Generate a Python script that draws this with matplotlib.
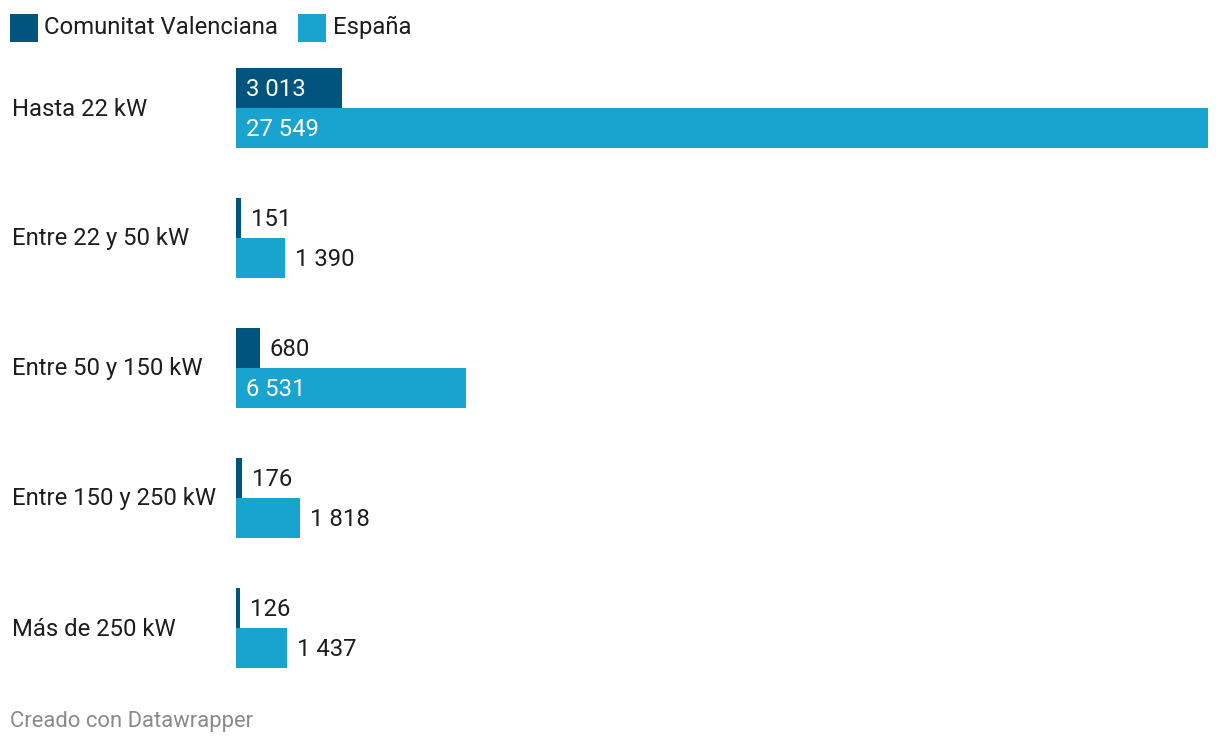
import matplotlib
matplotlib.use("Agg")
import matplotlib.pyplot as plt
from matplotlib.patches import Rectangle

categories = ["Hasta 22 kW", "Entre 22 y 50 kW", "Entre 50 y 150 kW", "Entre 150 y 250 kW", "Más de 250 kW"]
series_names = ["Comunitat Valenciana", "España"]
cv_values = [3013, 151, 680, 176, 126]
es_values = [27549, 1390, 6531, 1818, 1437]

COL_CV = "#01547d"
COL_ES = "#19a3cf"
TXT = "#1d1d1d"
plt.rcParams['font.family'] = ['Roboto', 'DejaVu Sans']

W, H = 1220, 746
fig = plt.figure(figsize=(W / 100, H / 100), dpi=100)

def fx(px):
    return px / W

def fy(py):
    return 1 - py / H

# axes: x from 236 to 1208 px, y from 68 to 668 px
ax_left, ax_right = 236, 1208
ax_top, ax_bot = 68, 668
ax = fig.add_axes([fx(ax_left), fy(ax_bot), (ax_right - ax_left) / W, (ax_bot - ax_top) / H])
ax.set_axis_off()
spacing = 130.0
bh = 40 / spacing
xmax = max(es_values)
ax.set_xlim(0, xmax)
ax.set_ylim(len(categories) - 1 + bh, -bh)

fs = 17.2
fig.canvas.draw()
renderer = fig.canvas.get_renderer()
px_per_unit = (ax_right - ax_left) / xmax

def fmt(v):
    return f"{v:,}".replace(",", " ")

for i, cat in enumerate(categories):
    fig.text(fx(12), fy(ax_top + i * spacing + 41), cat, fontsize=fs, color=TXT,
             ha="left", va="center")
    for val, col, off in [(cv_values[i], COL_CV, -bh / 2), (es_values[i], COL_ES, bh / 2)]:
        yc = i + off
        ax.barh(yc, val, height=bh, color=col, left=0)
        label = fmt(val)
        t = ax.text(0, yc + 1 / spacing, label, fontsize=fs, va="center", ha="left")
        tw = t.get_window_extent(renderer).width
        barw = val * px_per_unit
        if barw > tw + 20:
            t.set_position((10 / px_per_unit, yc + 1 / spacing))
            t.set_color("white")
        else:
            t.set_position((val + 10 / px_per_unit, yc + 1 / spacing))
            t.set_color(TXT)

# legend
fig.patches.append(Rectangle((fx(10), fy(42)), 28 / W, 28 / H, transform=fig.transFigure,
                             facecolor=COL_CV, edgecolor="none"))
fig.text(fx(44), fy(27), series_names[0], fontsize=fs, color=TXT, ha="left", va="center")
fig.patches.append(Rectangle((fx(298), fy(42)), 28 / W, 28 / H, transform=fig.transFigure,
                             facecolor=COL_ES, edgecolor="none"))
fig.text(fx(333), fy(27), series_names[1], fontsize=fs, color=TXT, ha="left", va="center")

fig.text(fx(10), fy(722), "Creado con Datawrapper", fontsize=15.8, color="#8a8a8a",
         ha="left", va="center")

fig.savefig("out.png", dpi=100, facecolor="white")
